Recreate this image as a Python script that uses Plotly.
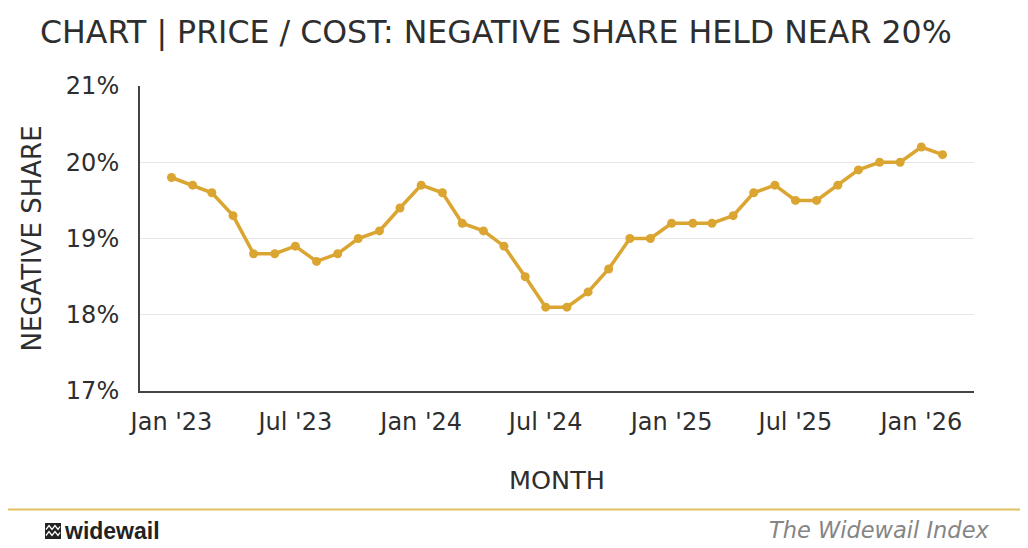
import pandas as pd
import plotly.graph_objects as go

# Monthly negative share (%), Jan 2023 - Feb 2026
months = pd.date_range("2023-01-01", "2026-02-01", freq="MS")
negative_share = [
    19.8, 19.7, 19.6, 19.3, 18.8, 18.8, 18.9, 18.7, 18.8, 19.0, 19.1, 19.4,
    19.7, 19.6, 19.2, 19.1, 18.9, 18.5, 18.1, 18.1, 18.3, 18.6, 19.0, 19.0,
    19.2, 19.2, 19.2, 19.3, 19.6, 19.7, 19.5, 19.5, 19.7, 19.9, 20.0, 20.0,
    20.2, 20.1,
]
tick_dates = ["2023-01-01", "2023-07-01", "2024-01-01", "2024-07-01",
              "2025-01-01", "2025-07-01", "2026-01-01"]
tick_labels = ["Jan '23", "Jul '23", "Jan '24", "Jul '24",
               "Jan '25", "Jul '25", "Jan '26"]
y_ticks = [17, 18, 19, 20, 21]
y_tick_labels = ["17%", "18%", "19%", "20%", "21%"]

gold = "#DBA532"
text_color = "#2e2e2e"
font = "DejaVu Sans"

# page body has an 8px margin, so everything is laid out 8px up/left
OFF = 8
L, R, T, B = 140 - OFF, 54 + OFF, 86 - OFF, 157 + OFF
PW, PH = 1028 - L - R, 548 - T - B


def px(x):
    # screen pixel x -> paper x
    return (x - 140) / PW


def py(y):
    # screen pixel y -> paper y
    return (391 - y) / PH


fig = go.Figure()
fig.add_trace(go.Scatter(
    x=months,
    y=negative_share,
    mode="lines+markers",
    line=dict(color=gold, width=3.5),
    marker=dict(color=gold, size=9),
    hovertemplate="%{x|%b %Y}: %{y:.1f}%<extra></extra>",
))

fig.update_layout(
    width=1028,
    height=548,
    margin=dict(l=L, r=R, t=T, b=B),
    paper_bgcolor="white",
    plot_bgcolor="white",
    showlegend=False,
    font=dict(family=font, color=text_color),
    title=dict(
        text="CHART | PRICE / COST: NEGATIVE SHARE HELD NEAR 20%",
        x=(40 - OFF) / 1028, xanchor="left", xref="container",
        y=1 - (32 - OFF) / 548, yanchor="middle", yref="container",
        font=dict(size=31.6, color=text_color, family=font),
    ),
)

fig.update_xaxes(
    type="date",
    range=["2022-11-16", "2026-03-19"],
    tickvals=tick_dates,
    ticktext=tick_labels,
    tickfont=dict(size=24, color=text_color),
    ticks="",
    ticklabelstandoff=8,
    showgrid=False,
    showline=True,
    linecolor="#444444",
    linewidth=2,
    zeroline=False,
    title=dict(text="MONTH", font=dict(size=25.5, color=text_color), standoff=36),
)
fig.update_yaxes(
    range=[17, 21],
    tickvals=y_ticks,
    ticktext=y_tick_labels,
    tickfont=dict(size=24, color=text_color),
    ticks="",
    ticklabelstandoff=14,
    showgrid=True,
    gridcolor="#e6e6e6",
    gridwidth=1,
    showline=True,
    linecolor="#444444",
    linewidth=2,
    zeroline=False,
    title=dict(text="NEGATIVE SHARE", font=dict(size=26, color=text_color), standoff=17),
)

# Footer rule
fig.add_shape(type="line", xref="paper", yref="paper",
              x0=px(0), x1=px(1036), y0=py(509.5), y1=py(509.5),
              line=dict(color="#E2C15C", width=2))

# Logo mark: dark square with two white zigzags
fig.add_shape(type="rect", xref="paper", yref="paper",
              x0=px(45), x1=px(61), y0=py(539), y1=py(523),
              fillcolor="#222222", line=dict(width=0))
for wy in (527.5, 533.5):
    pts = [(46, wy + 2), (49, wy - 2), (52, wy + 2), (55, wy - 2), (58, wy + 2), (60, wy - 1)]
    path = "M " + " L ".join(f"{px(a)},{py(b)}" for a, b in pts)
    fig.add_shape(type="path", xref="paper", yref="paper", path=path,
                  line=dict(color="white", width=1.3))

fig.add_annotation(text="<b>widewail</b>", xref="paper", yref="paper",
                   x=px(62), y=py(531), xanchor="left", yanchor="middle",
                   showarrow=False,
                   font=dict(size=23, color="#222222", family="Liberation Sans"))
fig.add_annotation(text="<i>The Widewail Index</i>", xref="paper", yref="paper",
                   x=px(991), y=py(530), xanchor="right", yanchor="middle",
                   showarrow=False,
                   font=dict(size=22.5, color="#858585", family=font))

fig.write_html("out.html")
